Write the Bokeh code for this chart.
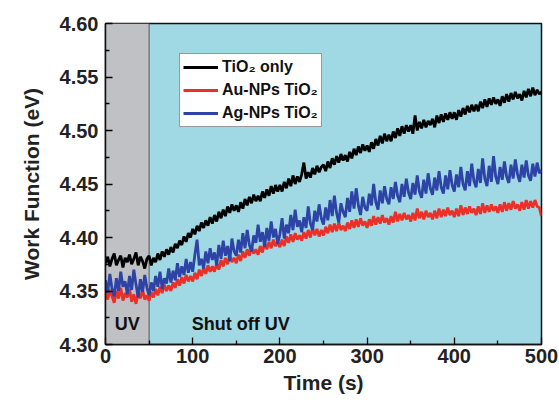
from bokeh.plotting import figure
from bokeh.models import (Legend, LegendItem, BoxAnnotation, Span, Label,
                          Range1d, FixedTicker)
from bokeh.embed import file_html
from bokeh.resources import INLINE

# ---------------- data (one sample every 2.5 s) ----------------
time_s = [i * 2.5 for i in range(201)]

tio2_only = [
    4.376, 4.382, 4.373, 4.380, 4.385, 4.374, 4.379, 4.383, 4.372, 4.381,
    4.377, 4.384, 4.375, 4.380, 4.386, 4.374, 4.382, 4.378, 4.371, 4.380,
    4.383, 4.374, 4.381, 4.377, 4.385, 4.379, 4.387, 4.382, 4.389, 4.384,
    4.391, 4.386, 4.394, 4.390, 4.397, 4.393, 4.401, 4.396, 4.404, 4.400,
    4.408, 4.403, 4.411, 4.406, 4.414, 4.409, 4.416, 4.411, 4.419, 4.413,
    4.421, 4.415, 4.424, 4.418, 4.426, 4.420, 4.429, 4.423, 4.431, 4.425,
    4.430, 4.424, 4.433, 4.427, 4.436, 4.430, 4.438, 4.432, 4.440, 4.434,
    4.439, 4.434, 4.443, 4.437, 4.445, 4.439, 4.448, 4.441, 4.449, 4.443,
    4.449, 4.443, 4.452, 4.446, 4.455, 4.448, 4.458, 4.450, 4.457, 4.452,
    4.459, 4.470, 4.455, 4.461, 4.456, 4.465, 4.459, 4.467, 4.461, 4.466,
    4.468, 4.462, 4.471, 4.465, 4.474, 4.468, 4.476, 4.470, 4.478, 4.472,
    4.477, 4.471, 4.480, 4.474, 4.483, 4.477, 4.485, 4.479, 4.487, 4.481,
    4.486, 4.480, 4.489, 4.483, 4.492, 4.486, 4.495, 4.488, 4.497, 4.490,
    4.496, 4.490, 4.499, 4.493, 4.502, 4.495, 4.504, 4.497, 4.505, 4.499,
    4.505, 4.497, 4.514, 4.500, 4.508, 4.502, 4.510, 4.503, 4.509, 4.505,
    4.511, 4.503, 4.514, 4.507, 4.515, 4.508, 4.516, 4.510, 4.517, 4.511,
    4.517, 4.510, 4.519, 4.513, 4.521, 4.515, 4.523, 4.517, 4.524, 4.518,
    4.524, 4.518, 4.527, 4.521, 4.529, 4.522, 4.530, 4.524, 4.531, 4.525,
    4.529, 4.523, 4.532, 4.526, 4.534, 4.527, 4.535, 4.529, 4.536, 4.530,
    4.534, 4.528, 4.537, 4.531, 4.539, 4.532, 4.540, 4.533, 4.538, 4.534,
    4.536,
]

au_nps_tio2 = [
    4.349, 4.342, 4.351, 4.345, 4.339, 4.350, 4.343, 4.353, 4.341, 4.348,
    4.344, 4.352, 4.340, 4.347, 4.338, 4.349, 4.343, 4.351, 4.342, 4.346,
    4.341, 4.349, 4.344, 4.352, 4.346, 4.354, 4.348, 4.356, 4.350, 4.355,
    4.350, 4.358, 4.353, 4.361, 4.355, 4.363, 4.357, 4.365, 4.359, 4.364,
    4.359, 4.367, 4.361, 4.370, 4.364, 4.372, 4.366, 4.374, 4.368, 4.373,
    4.368, 4.376, 4.370, 4.379, 4.373, 4.381, 4.375, 4.383, 4.377, 4.381,
    4.376, 4.384, 4.378, 4.387, 4.381, 4.389, 4.383, 4.391, 4.385, 4.389,
    4.384, 4.392, 4.386, 4.395, 4.389, 4.396, 4.390, 4.398, 4.392, 4.396,
    4.391, 4.398, 4.392, 4.401, 4.395, 4.403, 4.396, 4.404, 4.398, 4.402,
    4.397, 4.405, 4.399, 4.407, 4.400, 4.409, 4.402, 4.408, 4.401, 4.407,
    4.402, 4.410, 4.404, 4.412, 4.405, 4.413, 4.406, 4.414, 4.407, 4.411,
    4.406, 4.414, 4.408, 4.416, 4.409, 4.417, 4.410, 4.418, 4.411, 4.415,
    4.409, 4.417, 4.411, 4.420, 4.412, 4.419, 4.413, 4.421, 4.414, 4.418,
    4.412, 4.420, 4.414, 4.424, 4.415, 4.422, 4.416, 4.423, 4.417, 4.421,
    4.415, 4.423, 4.416, 4.427, 4.418, 4.424, 4.417, 4.425, 4.419, 4.423,
    4.417, 4.425, 4.418, 4.427, 4.419, 4.426, 4.420, 4.428, 4.421, 4.425,
    4.419, 4.427, 4.420, 4.430, 4.421, 4.428, 4.422, 4.429, 4.423, 4.427,
    4.421, 4.429, 4.422, 4.432, 4.423, 4.430, 4.424, 4.431, 4.425, 4.429,
    4.423, 4.431, 4.424, 4.433, 4.425, 4.432, 4.426, 4.434, 4.427, 4.431,
    4.425, 4.433, 4.426, 4.435, 4.427, 4.434, 4.428, 4.435, 4.429, 4.428,
    4.420,
]

ag_nps_tio2 = [
    4.360, 4.348, 4.366, 4.352, 4.345, 4.362, 4.350, 4.368, 4.354, 4.359,
    4.347, 4.364, 4.351, 4.370, 4.356, 4.344, 4.361, 4.349, 4.365, 4.353,
    4.346, 4.358, 4.350, 4.364, 4.354, 4.368, 4.352, 4.362, 4.357, 4.371,
    4.358, 4.369, 4.360, 4.376, 4.363, 4.373, 4.365, 4.380, 4.367, 4.377,
    4.368, 4.384, 4.398, 4.374, 4.380, 4.371, 4.387, 4.376, 4.390, 4.379,
    4.386, 4.374, 4.393, 4.380, 4.397, 4.383, 4.392, 4.378, 4.399, 4.387,
    4.383, 4.398, 4.386, 4.404, 4.390, 4.407, 4.393, 4.387, 4.402, 4.395,
    4.412, 4.396, 4.405, 4.391, 4.409, 4.397, 4.415, 4.400, 4.408, 4.394,
    4.403, 4.418, 4.399, 4.412, 4.404, 4.421, 4.407, 4.426, 4.410, 4.416,
    4.405, 4.419, 4.409, 4.429, 4.413, 4.407, 4.425, 4.415, 4.431, 4.418,
    4.412, 4.428, 4.416, 4.435, 4.420, 4.439, 4.423, 4.414, 4.432, 4.424,
    4.419, 4.437, 4.424, 4.443, 4.427, 4.446, 4.430, 4.421, 4.438, 4.428,
    4.425, 4.441, 4.430, 4.450, 4.433, 4.426, 4.444, 4.432, 4.448, 4.436,
    4.431, 4.447, 4.436, 4.452, 4.439, 4.433, 4.450, 4.438, 4.455, 4.442,
    4.436, 4.451, 4.440, 4.458, 4.443, 4.437, 4.454, 4.441, 4.460, 4.446,
    4.440, 4.456, 4.444, 4.462, 4.447, 4.441, 4.458, 4.445, 4.463, 4.449,
    4.443, 4.459, 4.447, 4.466, 4.450, 4.444, 4.462, 4.448, 4.469, 4.453,
    4.447, 4.464, 4.451, 4.474, 4.455, 4.448, 4.467, 4.452, 4.476, 4.457,
    4.450, 4.466, 4.454, 4.471, 4.457, 4.451, 4.468, 4.455, 4.473, 4.459,
    4.452, 4.468, 4.456, 4.472, 4.458, 4.453, 4.469, 4.457, 4.470, 4.460,
    4.463,
]

series_labels = ["TiO\u2082 only", "Au-NPs TiO\u2082", "Ag-NPs TiO\u2082"]
series_colors = ["#000000", "#ec3028", "#2e43a6"]

uv_off_time = 50
x_ticks = [0, 100, 200, 300, 400, 500]
x_minor = [50, 150, 250, 350, 450]
y_ticks = [4.30, 4.35, 4.40, 4.45, 4.50, 4.55, 4.60]
y_minor = [4.325, 4.375, 4.425, 4.475, 4.525, 4.575]

# ---------------- figure ----------------
FONT = "Liberation Sans"

p = figure(width=559, height=400, output_backend="svg", toolbar_location=None,
           x_range=Range1d(0, 500), y_range=Range1d(4.30, 4.60),
           min_border_left=105, min_border_right=18,
           min_border_top=23, min_border_bottom=56)

p.background_fill_color = "#a0d8e3"
p.border_fill_color = "white"
p.outline_line_color = "#111111"
p.outline_line_width = 1.5
p.xgrid.visible = False
p.ygrid.visible = False

# UV-on region
p.add_layout(BoxAnnotation(left=0, right=uv_off_time, fill_color="#bfc1c5",
                           fill_alpha=1.0, line_color=None, level="underlay"))
p.add_layout(Span(location=uv_off_time, dimension="height",
                  line_color="#555555", line_width=1, level="underlay"))

renderers = []
for ys, col in zip([tio2_only, au_nps_tio2, ag_nps_tio2], series_colors):
    r = p.line(time_s, ys, line_color=col, line_width=2.8)
    renderers.append(r)

legend = Legend(items=[LegendItem(label=lab, renderers=[r])
                       for lab, r in zip(series_labels, renderers)],
                location=(74, 217), label_text_font=FONT,
                label_text_font_style="bold", label_text_font_size="16px",
                label_text_color="#111111",
                glyph_width=35, glyph_height=20, label_height=20,
                label_standoff=4, spacing=3, padding=3, margin=0,
                border_line_color="#333333", border_line_width=1,
                background_fill_color="white", background_fill_alpha=1.0)
p.add_layout(legend)

# axes
for ax in (p.xaxis[0], p.yaxis[0]):
    ax.axis_line_width = 1.5
    ax.axis_line_color = "#111111"
    ax.major_tick_in = 7
    ax.major_tick_out = 0
    ax.minor_tick_in = 4
    ax.minor_tick_out = 0
    ax.major_tick_line_width = 1.3
    ax.minor_tick_line_width = 1.3
    ax.major_label_text_font = FONT
    ax.major_label_text_font_style = "bold"
    ax.major_label_text_font_size = "20px"
    ax.major_label_text_color = "#222222"
    ax.axis_label_text_font = FONT
    ax.axis_label_text_font_style = "bold"
    ax.axis_label_text_font_size = "21px"
    ax.axis_label_text_color = "#222222"

p.xaxis.ticker = FixedTicker(ticks=x_ticks, minor_ticks=x_minor)
p.yaxis.ticker = FixedTicker(ticks=y_ticks, minor_ticks=y_minor)
p.yaxis.major_label_overrides = {t: f"{t:.2f}" for t in y_ticks}
p.xaxis.axis_label = "Time (s)"
p.yaxis.axis_label = "Work Function (eV)"
p.xaxis.major_label_standoff = 4
p.yaxis.major_label_standoff = 7
p.xaxis.axis_label_standoff = 5
p.yaxis.axis_label_standoff = 14

# region labels
p.add_layout(Label(x=25, y=4.3195, text="UV", text_font=FONT,
                   text_font_style="bold", text_font_size="18px",
                   text_color="#111111", text_align="center",
                   text_baseline="middle"))
p.add_layout(Label(x=155, y=4.3195, text="Shut off UV", text_font=FONT,
                   text_font_style="bold", text_font_size="18px",
                   text_color="#111111", text_align="center",
                   text_baseline="middle"))

open("out.html", "w").write(file_html(p, INLINE))
